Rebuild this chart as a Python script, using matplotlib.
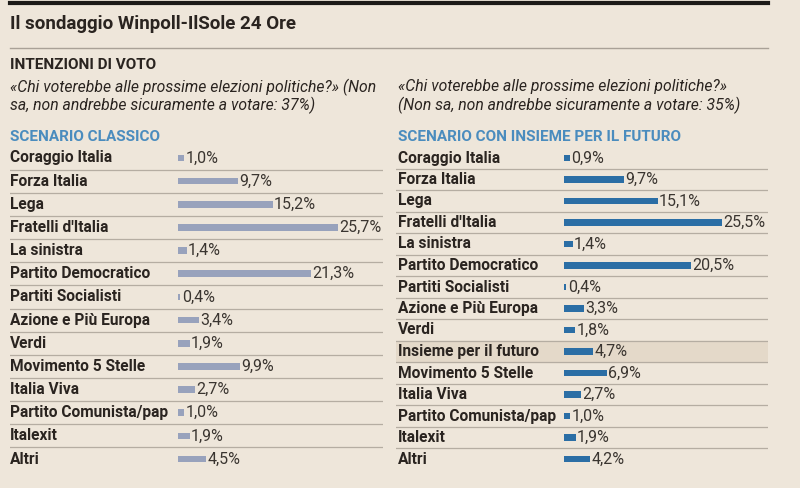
import matplotlib
matplotlib.use('Agg')
import matplotlib.pyplot as plt
from matplotlib.lines import Line2D

plt.rcParams['font.family'] = ['Roboto', 'DejaVu Sans']

# dati
partiti_classico = ['Coraggio Italia', 'Forza Italia', 'Lega', "Fratelli d'Italia", 'La sinistra',
                    'Partito Democratico', 'Partiti Socialisti', 'Azione e Più Europa', 'Verdi',
                    'Movimento 5 Stelle', 'Italia Viva', 'Partito Comunista/pap', 'Italexit', 'Altri']
valori_classico = [1.0, 9.7, 15.2, 25.7, 1.4, 21.3, 0.4, 3.4, 1.9, 9.9, 2.7, 1.0, 1.9, 4.5]

partiti_insieme = ['Coraggio Italia', 'Forza Italia', 'Lega', "Fratelli d'Italia", 'La sinistra',
                   'Partito Democratico', 'Partiti Socialisti', 'Azione e Più Europa', 'Verdi',
                   'Insieme per il futuro', 'Movimento 5 Stelle', 'Italia Viva',
                   'Partito Comunista/pap', 'Italexit', 'Altri']
valori_insieme = [0.9, 9.7, 15.1, 25.5, 1.4, 20.5, 0.4, 3.3, 1.8, 4.7, 6.9, 2.7, 1.0, 1.9, 4.2]

BG = '#EEE6DA'
TXT = '#2A2420'
BLU = '#4A8CBE'
W, H = 800, 488


def fx(px):
    return px / W


def fy(py):
    return 1 - py / H


def pannello(fig, rect, partiti, valori, colore, px_per_unit, x0_px, label_px, evidenzia=None):
    left, top, right, bottom = rect
    ax = fig.add_axes([fx(left), fy(bottom), fx(right - left), (bottom - top) / H])
    ax.set_facecolor('none')
    n = len(partiti)
    ax.set_xlim(-(x0_px - left) / px_per_unit, (right - x0_px) / px_per_unit)
    ax.set_ylim(n - 0.5, -0.5)
    ax.axis('off')

    if evidenzia is not None:
        i = partiti.index(evidenzia)
        ax.axhspan(i - 0.5, i + 0.5, color='#E4D9C9', zorder=0)

    # separatori
    for i in range(n - 1):
        ax.axhline(i + 0.5, color='#B5ADA2', linewidth=0.9, zorder=1)

    ax.barh(range(n), valori, height=0.29, color=colore, zorder=2)

    ytr = ax.get_yaxis_transform()
    lx = (label_px - left) / (right - left)
    for i, (p, v) in enumerate(zip(partiti, valori)):
        ax.text(lx, i, p, transform=ytr, ha='left', va='center',
                fontsize=11.2, fontweight='bold', color=TXT)
        ax.text(v + 0.2, i, f'{v:.1f}%'.replace('.', ','), ha='left', va='center',
                fontsize=11.5, color='#3A3530')
    return ax


fig = plt.figure(figsize=(8, 4.88), dpi=100, facecolor=BG)

# intestazione
fig.add_artist(Line2D([fx(10), fx(768)], [fy(3), fy(3)], color='#1C1A18', linewidth=3))
fig.text(fx(10), fy(24), 'Il sondaggio Winpoll-IlSole 24 Ore', ha='left', va='center',
         fontsize=13.5, fontweight='bold', color=TXT)
fig.add_artist(Line2D([fx(10), fx(768)], [fy(48), fy(48)], color='#A9A197', linewidth=1))
fig.text(fx(10), fy(65), 'INTENZIONI DI VOTO', ha='left', va='center',
         fontsize=11, fontweight='bold', color=TXT)

fig.text(fx(10), fy(87), '«Chi voterebbe alle prossime elezioni politiche?» (Non',
         ha='left', va='center', fontsize=11.3, style='italic', color=TXT)
fig.text(fx(10), fy(105), 'sa, non andrebbe sicuramente a votare: 37%)',
         ha='left', va='center', fontsize=11.3, style='italic', color=TXT)
fig.text(fx(398), fy(87), '«Chi voterebbe alle prossime elezioni politiche?»',
         ha='left', va='center', fontsize=11.3, style='italic', color=TXT)
fig.text(fx(398), fy(105), '(Non sa, non andrebbe sicuramente a votare: 35%)',
         ha='left', va='center', fontsize=11.3, style='italic', color=TXT)

fig.text(fx(10), fy(137), 'SCENARIO CLASSICO', ha='left', va='center',
         fontsize=11, fontweight='bold', color=BLU)
fig.text(fx(398), fy(137), 'SCENARIO CON INSIEME PER IL FUTURO', ha='left', va='center',
         fontsize=11, fontweight='bold', color=BLU)

pannello(fig, (10, 146.4, 383, 470.6), partiti_classico, valori_classico,
         '#98A2BC', 6.23, 178, 10)
pannello(fig, (396, 147.25, 768, 469.75), partiti_insieme, valori_insieme,
         '#2B6EA5', 6.2, 564, 398, evidenzia='Insieme per il futuro')

fig.savefig('out.png', dpi=100, facecolor=BG)
